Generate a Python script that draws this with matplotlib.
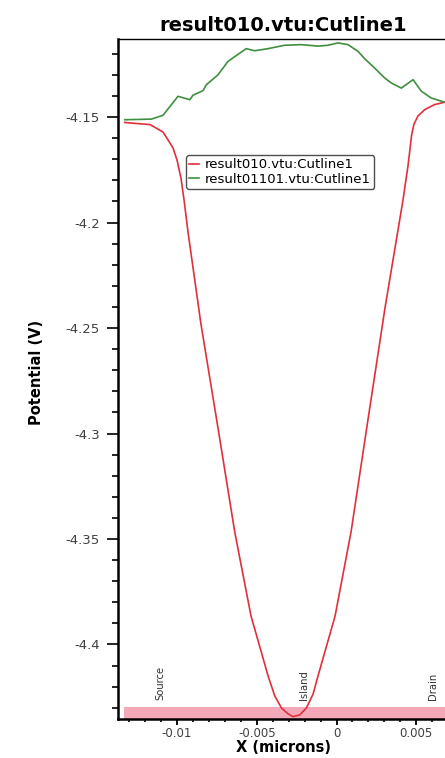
import matplotlib

matplotlib.use("Agg")
import matplotlib.pyplot as plt
from matplotlib.ticker import FuncFormatter, MultipleLocator

plt.rcParams.update({
    "font.family": "DejaVu Sans",
    "axes.unicode_minus": False,
})

# Cutline through the device, x in microns, potential in volts
X_010 = [-0.01328, -0.01169, -0.01088, -0.01056, -0.01025, -0.01000, -0.00975,
         -0.00956, -0.00931, -0.00850, -0.00743, -0.00638, -0.00536, -0.00429,
         -0.00387, -0.00345, -0.00303, -0.00273, -0.00231, -0.00189, -0.00147,
         -0.00116, -0.00009, 0.00091, 0.00197, 0.00304, 0.00417, 0.00449,
         0.00471, 0.00486, 0.00511, 0.00553, 0.00615, 0.00678]
V_010 = [-4.1526, -4.1536, -4.1571, -4.1609, -4.1647, -4.1704, -4.1790,
         -4.1893, -4.2045, -4.2481, -4.2974, -4.3467, -4.3865, -4.4149,
         -4.4244, -4.4301, -4.4329, -4.4342, -4.4334, -4.4301, -4.4235,
         -4.4149, -4.3865, -4.3467, -4.2936, -4.2405, -4.1893, -4.1727,
         -4.1585, -4.1533, -4.1495, -4.1465, -4.1441, -4.1430]

X_01101 = [-0.01328, -0.01161, -0.01088, -0.00994, -0.00920, -0.00900, -0.00837,
           -0.00816, -0.00743, -0.00680, -0.00566, -0.00513, -0.00429, -0.00325,
           -0.00221, -0.00116, -0.00053, 0.00009, 0.00072, 0.00135, 0.00177,
           0.00239, 0.00302, 0.00344, 0.00406, 0.00480, 0.00532, 0.00594, 0.00678]
V_01101 = [-4.1513, -4.1510, -4.1492, -4.1402, -4.1418, -4.1397, -4.1375,
           -4.1347, -4.1300, -4.1236, -4.1176, -4.1186, -4.1176, -4.1160,
           -4.1157, -4.1164, -4.1160, -4.1149, -4.1157, -4.1189, -4.1224,
           -4.1268, -4.1315, -4.1339, -4.1363, -4.1323, -4.1378, -4.1410, -4.1430]

# Device regions drawn along the bottom of the plot
REGION_NAMES = ["Source", "Island", "Drain"]
REGION_X = [-0.01106, -0.00203, 0.00606]
BAND_X = [-0.0133, 0.0075]
BAND_V = [-4.4355, -4.4294]

RED = "#e0303c"
GREEN = "#3f8f3f"

fig = plt.figure(figsize=(4.45, 7.58), dpi=100)
ax = fig.add_axes([118 / 445, 1 - 719 / 758, 330 / 445, 680 / 758])

ax.fill_between(BAND_X, BAND_V[0], BAND_V[1], color="#f5a9b8", lw=0, zorder=1)
ax.plot(X_010, V_010, color=RED, lw=1.2, label="result010.vtu:Cutline1", zorder=3)
ax.plot(X_01101, V_01101, color=GREEN, lw=1.2, label="result01101.vtu:Cutline1", zorder=3)

for name, xr in zip(REGION_NAMES, REGION_X):
    ax.text(xr, -4.4265, name, rotation=90, ha="center", va="bottom", fontsize=7.2,
            color="#333333", zorder=4)

ax.set_xlim(-0.0137, 0.00699)
ax.set_ylim(-4.43531, -4.11303)

ax.xaxis.set_major_locator(MultipleLocator(0.005))
ax.xaxis.set_minor_locator(MultipleLocator(0.001))
ax.yaxis.set_major_locator(MultipleLocator(0.05))
ax.yaxis.set_minor_locator(MultipleLocator(0.01))
fmt = FuncFormatter(lambda v, _: "0" if abs(v) < 1e-12 else f"{v:g}")
ax.xaxis.set_major_formatter(fmt)
ax.yaxis.set_major_formatter(fmt)

ax.tick_params(axis="y", which="major", length=8, width=1.2, pad=5,
               labelsize=9.5, labelcolor="#404040")
ax.tick_params(axis="y", which="minor", length=4.5, width=1.2)
ax.tick_params(axis="x", which="major", length=4, width=1.3, pad=2,
               labelsize=8.5, labelcolor="#404040")
ax.tick_params(axis="x", which="minor", length=2.5, width=1.2)

ax.spines["right"].set_visible(False)
ax.spines["left"].set_linewidth(1.8)
ax.spines["bottom"].set_linewidth(1.8)
ax.spines["top"].set_linewidth(1.0)

ax.set_title("result010.vtu:Cutline1", fontsize=14, fontweight="bold", pad=6)
ax.set_xlabel("X (microns)", fontsize=10.5, fontweight="bold", labelpad=0)
ax.set_ylabel("Potential (V)", fontsize=10.5, fontweight="bold")
ax.yaxis.set_label_coords(-0.225, 0.51)

leg = ax.legend(loc="upper left", bbox_to_anchor=(186 / 445, 1 - 155 / 758),
                bbox_transform=fig.transFigure, fontsize=9.5, frameon=True,
                fancybox=True, handlelength=0.7, handletextpad=0.5,
                borderpad=0.25, labelspacing=0.1, borderaxespad=0)
leg.get_frame().set_edgecolor("#222222")
leg.get_frame().set_linewidth(1.0)

fig.savefig("out.png", dpi=100)
